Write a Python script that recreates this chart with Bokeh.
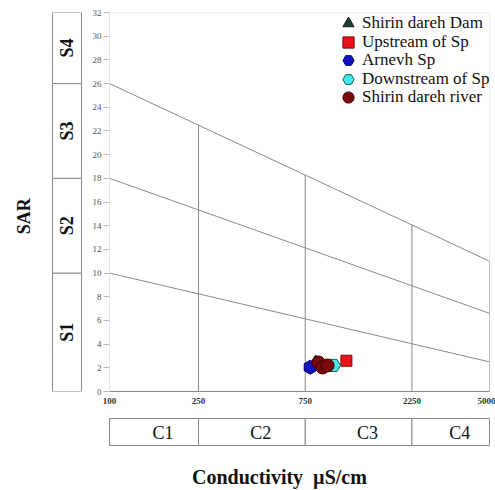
import math
from bokeh.plotting import figure
from bokeh.layouts import column, row
from bokeh.models import Range1d, FixedTicker, Legend, LegendItem, PrintfTickFormatter
from bokeh.core.properties import value
from bokeh.embed import file_html
from bokeh.resources import INLINE

# ---------------- data ----------------
ec_ticks = [100, 250, 750, 2250, 5000]
sar_ticks = list(range(0, 33, 2))
ec_min, ec_max = 100, 5000
sar_min, sar_max = 0, 32

# salinity-hazard boundary lines (SAR at EC=100 and at EC=5000)
line_sar_left = [10, 18, 26]
line_sar_right = [2.5, 6.6, 11]

class_ec_bounds = [100, 250, 750, 2250, 5000]
class_labels = ["C1", "C2", "C3", "C4"]
s_bounds = [0, 10, 18, 26, 32]
s_labels = ["S1", "S2", "S3", "S4"]

series_names = ["Shirin dareh Dam", "Upstream of Sp", "Arnevh Sp",
                "Downstream of Sp", "Shirin dareh river"]
dam_ec = [835]
dam_sar = [2.45]
up_ec = [1146]
up_sar = [2.6]
arn_ec = [790]
arn_sar = [2.05]
down_ec = [1003]
down_sar = [2.2]
riv_ec = [860, 896, 944]
riv_sar = [2.45, 2.03, 2.2]

# ---------------- styling ----------------
FONT = "Liberation Serif"
GRAY = "#8a8a8a"
W, H = 495, 490
W_LEFT = 82
H_TOP = 412
FR_TOP, FR_BOT = 12, 21
FR_RIGHT = 6
FR_LEFT_MAIN = 27
FRAME_H = H_TOP - FR_TOP - FR_BOT

def top_line_sar(ec):
    # SAR of the upper boundary line at a given EC (straight in log-EC)
    t = (math.log10(ec) - math.log10(ec_min)) / (math.log10(ec_max) - math.log10(ec_min))
    return line_sar_left[-1] + (line_sar_right[-1] - line_sar_left[-1]) * t

# ---------------- main plot ----------------
main = figure(width=W - W_LEFT, height=H_TOP, x_axis_type="log",
              x_range=Range1d(ec_min, ec_max), y_range=Range1d(sar_min, sar_max),
              output_backend="svg", toolbar_location=None,
              min_border_left=FR_LEFT_MAIN, min_border_right=FR_RIGHT,
              min_border_top=FR_TOP, min_border_bottom=FR_BOT)
main.grid.visible = False
main.outline_line_color = "#eeeeee"
main.background_fill_color = "white"
main.border_fill_color = "white"

# y axis
main.yaxis.ticker = FixedTicker(ticks=sar_ticks, minor_ticks=[])
main.yaxis.axis_line_color = "#e6e6e6"
main.yaxis.major_tick_line_color = "#bbbbbb"
main.yaxis.major_tick_in = 0
main.yaxis.major_tick_out = 6
main.yaxis.minor_tick_line_color = None
main.yaxis.major_label_standoff = 2
main.yaxis.major_label_text_font = FONT
main.yaxis.major_label_text_font_size = "9px"
main.yaxis.major_label_text_color = "#555555"

# x axis
main.xaxis.ticker = FixedTicker(ticks=ec_ticks, minor_ticks=[])
main.xaxis.formatter = PrintfTickFormatter(format="%d")
main.xaxis.axis_line_color = GRAY
main.xaxis.major_tick_line_color = None
main.xaxis.minor_tick_line_color = None
main.xaxis.major_tick_out = 0
main.xaxis.major_tick_in = 0
main.xaxis.major_label_standoff = 6
main.xaxis.major_label_text_font = FONT
main.xaxis.major_label_text_font_style = "bold"
main.xaxis.major_label_text_font_size = "9px"
main.xaxis.major_label_text_color = "#333333"

# boundary lines
for sl, sr in zip(line_sar_left, line_sar_right):
    main.line([ec_min, ec_max], [sl, sr], line_color=GRAY, line_width=1)
# vertical class separators up to the upper line
for ec in class_ec_bounds:
    main.line([ec, ec], [sar_min, top_line_sar(ec)], line_color=GRAY, line_width=1)

# data series
r_dam = main.scatter(dam_ec, dam_sar, marker="triangle", size=13,
                     fill_color="#1f3d36", line_color="#0d1f1b")
r_up = main.scatter(up_ec, up_sar, marker="square", size=11,
                    fill_color="#e8141b", line_color="#8b0000")
r_arn = main.scatter(arn_ec, arn_sar, marker="hex", size=14, angle=math.pi / 2,
                     fill_color="#1010c0", line_color="#000060")
r_down = main.scatter(down_ec, down_sar, marker="hex", size=14,
                      fill_color="#40ecec", line_color="#1d5a5a")
r_riv = main.scatter(riv_ec, riv_sar, marker="circle", size=13,
                     fill_color="#7a0a0a", line_color="#3d0000")

# one legend per row, so that markers can be large while rows stay tight
GLYPH = 28
first_row_top, row_pitch = 23, 18.5      # px from top of frame-canvas
marker_cx = 348 - W_LEFT - FR_LEFT_MAIN  # px from frame left
for i, (name, r) in enumerate(zip(series_names, [r_dam, r_up, r_arn, r_down, r_riv])):
    cy = first_row_top + i * row_pitch - FR_TOP
    lg = Legend(items=[LegendItem(label=name, renderers=[r])],
                location=(marker_cx - GLYPH / 2, FRAME_H - cy - GLYPH / 2))
    lg.background_fill_alpha = 0
    lg.border_line_color = None
    lg.label_text_font = FONT
    lg.label_text_font_size = "17px"
    lg.label_text_color = "#111111"
    lg.glyph_width = GLYPH
    lg.glyph_height = GLYPH
    lg.label_height = GLYPH
    lg.padding = 0
    lg.margin = 0
    lg.spacing = 0
    lg.label_standoff = 0
    main.add_layout(lg)

# ---------------- left S-bar ----------------
left = figure(width=W_LEFT, height=H_TOP, x_range=Range1d(0, W_LEFT),
              y_range=Range1d(sar_min, sar_max), output_backend="svg",
              toolbar_location=None, x_axis_location=None, y_axis_location=None,
              min_border_left=0, min_border_right=0,
              min_border_top=FR_TOP, min_border_bottom=FR_BOT)
left.grid.visible = False
left.outline_line_color = None
left.quad(left=52, right=81, bottom=s_bounds[:-1], top=s_bounds[1:],
          fill_color="white", line_color=GRAY, line_width=1)
left.text(x=[66.5] * 4,
          y=[(a + b) / 2 for a, b in zip(s_bounds[:-1], s_bounds[1:])],
          text=s_labels, angle=math.pi / 2, text_align="center",
          text_baseline="middle", text_font=value(FONT),
          text_font_style="bold", text_font_size="18px", text_color="#111111")
left.text(x=[23], y=[14.8], text=["SAR"], angle=math.pi / 2,
          text_align="center", text_baseline="middle", text_font=value(FONT),
          text_font_style="bold", text_font_size="18px", text_color="#111111")

# ---------------- bottom C-bar ----------------
H_BOT = H - H_TOP
pad_l, pad_r = 5, 3
frame_w = W - W_LEFT - FR_LEFT_MAIN - FR_RIGHT
dec = math.log10(ec_max) - math.log10(ec_min)
lo = 10 ** (math.log10(ec_min) - pad_l * dec / frame_w)
hi = 10 ** (math.log10(ec_max) + pad_r * dec / frame_w)
bottom = figure(width=W, height=H_BOT, x_axis_type="log",
                x_range=Range1d(lo, hi), y_range=Range1d(H_BOT, 0),
                output_backend="svg", toolbar_location=None,
                x_axis_location=None, y_axis_location=None,
                min_border_left=W_LEFT + FR_LEFT_MAIN - pad_l,
                min_border_right=FR_RIGHT - pad_r,
                min_border_top=0, min_border_bottom=0)
bottom.grid.visible = False
bottom.outline_line_color = None
bottom.quad(left=class_ec_bounds[:-1], right=class_ec_bounds[1:], top=6, bottom=33,
            fill_color="white", line_color=GRAY, line_width=1)
bottom.text(x=[math.sqrt(a * b) for a, b in zip(class_ec_bounds[:-1], class_ec_bounds[1:])],
            y=[20] * 4, text=class_labels, x_offset=9, text_align="center",
            text_baseline="middle", text_font=value(FONT),
            text_font_size="18px", text_color="#111111")
bottom.text(x=[575], y=[64], text=["Conductivity \u00a0\u00b5S/cm"], text_align="center",
            text_baseline="middle", text_font=value(FONT), text_font_style="bold",
            text_font_size="20px", text_color="#111111")

layout = column(row(left, main), bottom)
open("out.html", "w").write(file_html(layout, INLINE))
